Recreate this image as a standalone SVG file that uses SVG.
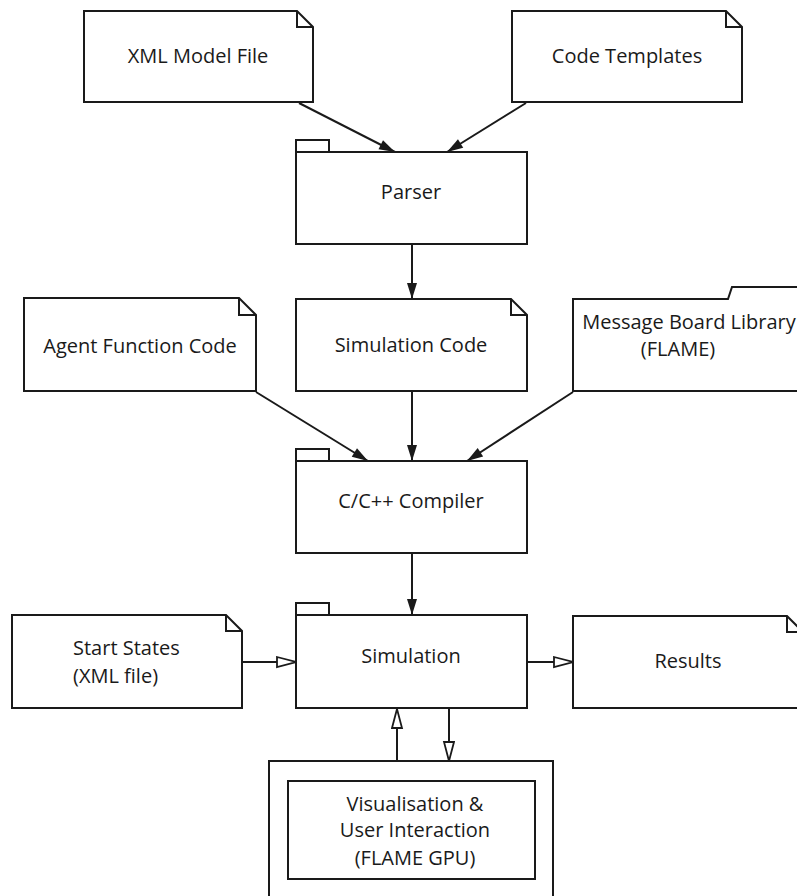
<svg xmlns="http://www.w3.org/2000/svg" width="797" height="896" viewBox="0 0 797 896">
  <style>
    .shape { fill: #ffffff; stroke: #1a1a1a; stroke-width: 2; stroke-linejoin: miter; }
    .fold { fill: none; stroke: #1a1a1a; stroke-width: 2; }
    .label { font-family: "Open Sans", "Noto Sans", "Liberation Sans", sans-serif; font-size: 20px; fill: #1a1a1a; text-anchor: middle; }
    .left { text-anchor: start; }
    .edge { fill: none; stroke: #1a1a1a; stroke-width: 2; }
  </style>
  <defs>
    <marker id="solid" markerUnits="userSpaceOnUse" markerWidth="18" markerHeight="12" refX="17" refY="5.5" orient="auto">
      <path d="M1,0.5 L17,5.5 L1,10.5 Z" fill="#1a1a1a"/>
    </marker>
    <marker id="hollow" markerUnits="userSpaceOnUse" markerWidth="22" markerHeight="14" refX="20" refY="6" orient="auto">
      <path d="M1,1 L20,6 L1,11 Z" fill="#ffffff" stroke="#1a1a1a" stroke-width="1.8"/>
    </marker>
  </defs>
  <rect width="797" height="896" fill="#ffffff"/>

  <!-- connectors -->
  <g id="connectors">
    <line class="edge" x1="299" y1="103" x2="395" y2="152" marker-end="url(#solid)"/>
    <line class="edge" x1="526" y1="103" x2="447" y2="152" marker-end="url(#solid)"/>
    <line class="edge" x1="412" y1="245" x2="412" y2="299" marker-end="url(#solid)"/>
    <line class="edge" x1="256" y1="392" x2="368" y2="461" marker-end="url(#solid)"/>
    <line class="edge" x1="412" y1="392" x2="412" y2="461" marker-end="url(#solid)"/>
    <line class="edge" x1="573" y1="392" x2="467" y2="461" marker-end="url(#solid)"/>
    <line class="edge" x1="412" y1="554" x2="412" y2="615" marker-end="url(#solid)"/>
    <line class="edge" x1="242" y1="662" x2="296" y2="662" marker-end="url(#hollow)"/>
    <line class="edge" x1="527" y1="662" x2="573" y2="662" marker-end="url(#hollow)"/>
    <line class="edge" x1="397" y1="761" x2="397" y2="709" marker-end="url(#hollow)"/>
    <line class="edge" x1="449" y1="709" x2="449" y2="761" marker-end="url(#hollow)"/>
  </g>

  <!-- artifact notes -->
  <g id="xml-model-file">
    <path class="shape" d="M84,11 H297 L313,27 V102 H84 Z"/>
    <path class="fold" d="M297,11 V27 H313"/>
    <text class="label" x="198" y="63">XML Model File</text>
  </g>

  <g id="code-templates">
    <path class="shape" d="M512,11 H726 L742,27 V102 H512 Z"/>
    <path class="fold" d="M726,11 V27 H742"/>
    <text class="label" x="627" y="63">Code Templates</text>
  </g>

  <!-- parser package -->
  <g id="parser">
    <rect class="shape" x="296" y="140" width="33" height="12"/>
    <rect class="shape" x="296" y="152" width="231" height="92"/>
    <text class="label" x="411" y="199">Parser</text>
  </g>

  <g id="agent-function-code">
    <path class="shape" d="M24,298 H239 L256,315 V391 H24 Z"/>
    <path class="fold" d="M239,298 V315 H256"/>
    <text class="label" x="140" y="353">Agent Function Code</text>
  </g>

  <g id="simulation-code">
    <path class="shape" d="M296,299 H511 L527,315 V391 H296 Z"/>
    <path class="fold" d="M511,299 V315 H527"/>
    <text class="label" x="411" y="352">Simulation Code</text>
  </g>

  <!-- library folder with a tab on the right -->
  <g id="message-board-library">
    <path class="shape" d="M573,391 V299 H728 L732,287 H810 V391 Z"/>
    <text class="label" x="689" y="329">Message Board Library</text>
    <text class="label" x="678" y="356">(FLAME)</text>
  </g>

  <g id="compiler">
    <rect class="shape" x="296" y="449" width="33" height="12"/>
    <rect class="shape" x="296" y="461" width="231" height="92"/>
    <text class="label" x="411" y="508">C/C++ Compiler</text>
  </g>

  <g id="start-states">
    <path class="shape" d="M12,615 H226 L242,631 V708 H12 Z"/>
    <path class="fold" d="M226,615 V631 H242"/>
    <text class="label left" x="73" y="655">Start States</text>
    <text class="label left" x="73" y="683">(XML file)</text>
  </g>

  <g id="simulation">
    <rect class="shape" x="296" y="603" width="33" height="12"/>
    <rect class="shape" x="296" y="615" width="231" height="93"/>
    <text class="label" x="411" y="663">Simulation</text>
  </g>

  <g id="results">
    <path class="shape" d="M573,616 H787 L803,632 V708 H573 Z"/>
    <path class="fold" d="M787,616 V632 H803"/>
    <text class="label" x="688" y="668">Results</text>
  </g>

  <!-- visualisation frame -->
  <g id="visualisation">
    <rect class="shape" x="269" y="761" width="284" height="150"/>
    <rect class="shape" x="288" y="781" width="247" height="98"/>
    <text class="label" x="415" y="811">Visualisation &amp;</text>
    <text class="label" x="415" y="837">User Interaction</text>
    <text class="label" x="415" y="865">(FLAME GPU)</text>
  </g>
</svg>
